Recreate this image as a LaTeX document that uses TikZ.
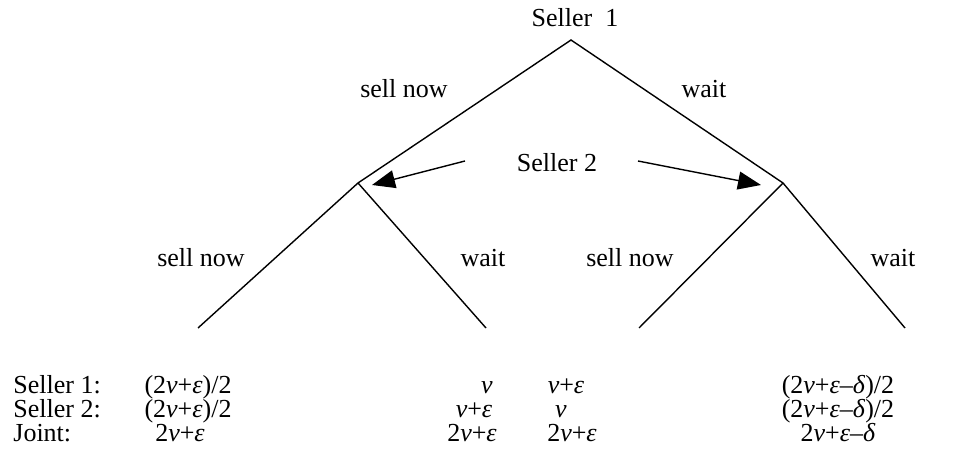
\documentclass[tikz,border=0pt]{standalone}
\usepackage{fontspec}
\setmainfont{Liberation Serif}
\usetikzlibrary{arrows.meta}
\begin{document}
\begin{tikzpicture}[x=0.5pt,y=-0.5pt,
  edge/.style={line width=0.7pt},
  pointer/.style={line width=0.7pt,-{Triangle[length=11.5pt,width=9pt]}},
  lbl/.style={inner sep=0pt,anchor=base,font=\fontsize{13pt}{15pt}\selectfont},
  rowlbl/.style={inner sep=0pt,anchor=base west,font=\fontsize{13pt}{15pt}\selectfont}]
\useasboundingbox (0,0) rectangle (959,464);
% tree vertices
\coordinate (r) at (571,40);
\coordinate (L) at (358,183);
\coordinate (R) at (783,183);
\coordinate (LL) at (198,328);
\coordinate (LR) at (486,328);
\coordinate (RL) at (639,328);
\coordinate (RR) at (905,328);
\draw[edge] (LL) -- (L) -- (r) -- (R) -- (RR);
\draw[edge] (L) -- (LR);
\draw[edge] (R) -- (RL);
% labels
\node[lbl] (s1) at (575,27) {Seller\ \ 1};
\node[lbl] (sn0) at (404,98) {sell now};
\node[lbl] (w0) at (704,98) {wait};
\node[lbl] (s2) at (557,172) {Seller 2};
\node[lbl] (snL) at (201,267) {sell now};
\node[lbl] (wL) at (483,267) {wait};
\node[lbl] (snR) at (630,267) {sell now};
\node[lbl] (wR) at (893,267) {wait};
% arrows
\coordinate (aL0) at (465,161);
\coordinate (aL1) at (372,185);
\coordinate (aR0) at (638,161);
\coordinate (aR1) at (761,185);
\draw[pointer] (aL0) -- (aL1);
\draw[pointer] (aR0) -- (aR1);
% payoff table
\newcommand{\vv}{\textit{v}}
\newcommand{\ee}{\textit{ε}}
\newcommand{\dd}{\textit{δ}}
\node[rowlbl] (p1) at (13,394) {Seller 1:};
\node[rowlbl] (p2) at (13,418) {Seller 2:};
\node[rowlbl] (p3) at (13,442) {Joint:};
\node[lbl] (a1) at (188,394) {(2\vv+\ee)/2};
\node[lbl] (a2) at (188,418) {(2\vv+\ee)/2};
\node[lbl] (a3) at (180,442) {2\vv+\ee};
\node[lbl] (b1) at (487,394) {\vv};
\node[lbl] (b2) at (474,418) {\vv+\ee};
\node[lbl] (b3) at (472,442) {2\vv+\ee};
\node[lbl] (c1) at (566,394) {\vv+\ee};
\node[lbl] (c2) at (561,418) {\vv};
\node[lbl] (c3) at (572,442) {2\vv+\ee};
\node[lbl] (d1) at (838,394) {(2\vv+\ee–\dd)/2};
\node[lbl] (d2) at (838,418) {(2\vv+\ee–\dd)/2};
\node[lbl] (d3) at (838,442) {2\vv+\ee–\dd};
\end{tikzpicture}
\end{document}
